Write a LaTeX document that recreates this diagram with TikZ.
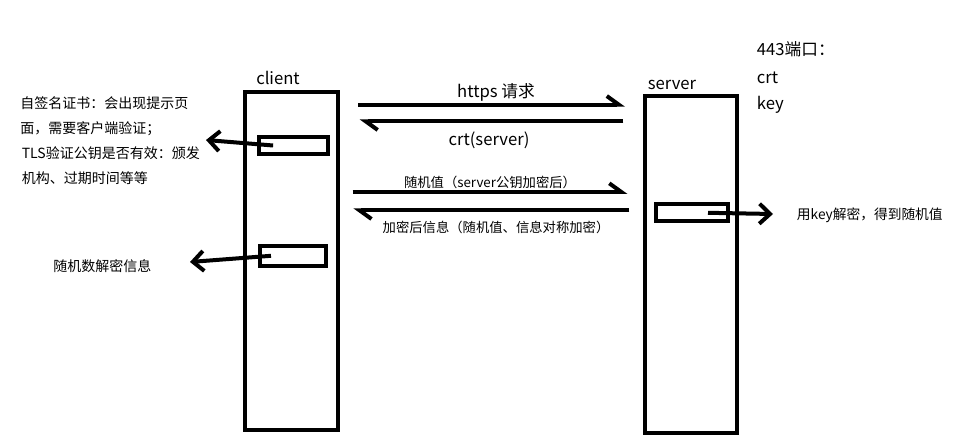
\documentclass[tikz,border=0pt]{standalone}
\usepackage{fontspec}
\setmainfont{Noto Sans CJK SC}
\usepackage{tikz}
\usetikzlibrary{arrows.meta,positioning}
\tikzset{
  life/.style={draw, line width=3pt, inner sep=0pt},
  slot/.style={draw, line width=3pt, inner sep=0pt},
  lbl/.style={font=\fontsize{12.5}{14}\selectfont, inner sep=0pt},
  mlbl/.style={font=\fontsize{10}{12}\selectfont, inner sep=0pt},
  note/.style={font=\fontsize{10.5}{18.8}\selectfont, align=left, anchor=west, inner sep=0pt},
  msg/.style={line width=3pt, -{Straight Barb[harpoon, length=9pt, width=13pt]}},
  side/.style={line width=3pt, -{Straight Barb[length=8pt, width=15pt]}},
}

\begin{document}
\begin{tikzpicture}[x=0.75pt, y=-0.75pt]
  \path[use as bounding box, fill=white] (0,0) rectangle (967,445);
  % lifelines
  \node[life, minimum width=70pt, minimum height=253.5pt] (client) at (291.3,261) {};
  \node[life, minimum width=69pt, minimum height=252.75pt] (server) at (691,264.5) {};
  \node[lbl] (clientlbl) at (278,78) {client};
  \node[lbl] (serverlbl) at (672,85) {server};
  \node[slot, minimum width=51.5pt, minimum height=12.75pt] (cbox1) at (293.7,145.5) {};
  \node[slot, minimum width=49.5pt, minimum height=14.8pt] (cbox2) at (293.3,255.8) {};
  \node[slot, minimum width=54pt, minimum height=12.75pt] (sbox) at (692,212.8) {};
  % server files
  \node[lbl, anchor=west] (port) at (756.7,49) {443端口：};
  \node[lbl, anchor=west] (crt) at (756.7,77.5) {crt};
  \node[lbl, anchor=west] (key) at (756.7,105) {key};
  % messages
  \coordinate (reqL) at (358,104.7);  \coordinate (reqR) at (625,104.7);
  \coordinate (crtL) at (359.5,121.3); \coordinate (crtR) at (623.3,121.3);
  \coordinate (rndL) at (352.7,192);  \coordinate (rndR) at (627.5,192);
  \coordinate (encL) at (353.3,210.3); \coordinate (encR) at (629.3,210.3);
  \draw[msg] (reqL) -- (reqR);
  \draw[msg] (crtR) -- (crtL);
  \draw[msg] (rndL) -- (rndR);
  \draw[msg] (encR) -- (encL);
  \node[lbl] (req) at (496,92) {https 请求};
  \node[lbl] (crtlbl) at (489,140) {crt(server)};
  \node[mlbl] (rnd) at (490,182) {随机值（server公钥加密后）};
  \node[mlbl] (enc) at (496,227) {加密后信息（随机值、信息对称加密）};
  % side notes
  \node[note] (cert) at (20,116.5) {自签名证书：会出现提示页\\面，需要客户端验证；};
  \node[note] (tls) at (21.5,165.5) {TLS验证公钥是否有效：颁发\\机构、过期时间等等};
  \node[note] (dec) at (53,266) {随机数解密信息};
  \node[note, font=\fontsize{10.3}{12}\selectfont] (skey) at (796.7,215) {用key解密，得到随机值};
  \coordinate (n1) at (206,140);
  \coordinate (n2) at (190,262);
  \coordinate (n3) at (773,214);
  \draw[side] ([xshift=11.8pt]cbox1.west) -- (n1);
  \draw[side] ([xshift=9.5pt]cbox2.west) -- (n2);
  \draw[side] ([xshift=12pt]sbox.center) -- (n3);
\end{tikzpicture}
\end{document}
